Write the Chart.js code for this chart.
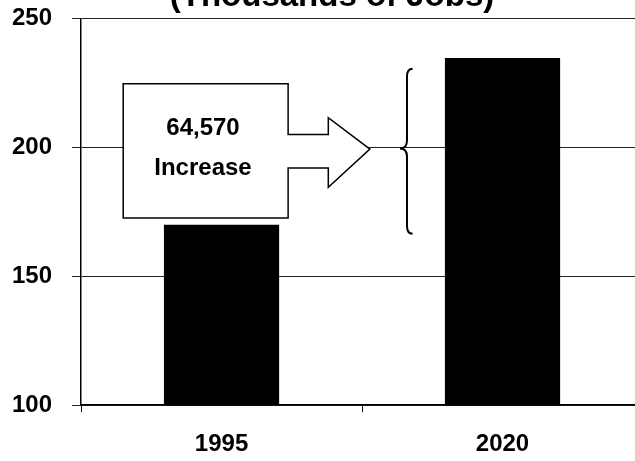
<!DOCTYPE html>
<html>
<head>
<meta charset="utf-8">
<script src="https://cdn.jsdelivr.net/npm/chart.js@4"></script>
<style>
  html, body { margin: 0; padding: 0; background: #fff; overflow: hidden; }
  #wrap { width: 645px; height: 477px; margin-top: -16px; }
</style>
</head>
<body>
<div id="wrap"><canvas id="myChart"></canvas></div>
<script>
const years = ["1995", "2020"];
const jobs = [170.0, 234.6];
const yTicks = [100, 150, 200, 250];
const increaseText = ["64,570", "Increase"];
const titleText = "(Thousands of Jobs)";

const FONT = "'Liberation Sans', Arial, sans-serif";

// cropped title + the "increase" callout drawn on top of the bars
const callout = {
  id: "callout",
  afterDatasetsDraw(chart) {
    const ctx = chart.ctx;
    const x = chart.scales.x;
    const y = chart.scales.y;
    const x0 = x.getPixelForValue(0);
    const cw = x.getPixelForValue(1) - x0;
    const px = (f) => x0 + f * cw;
    const py = (v) => y.getPixelForValue(v);

    ctx.save();
    // title, only its bottom shows at the top edge
    ctx.fillStyle = "#000";
    ctx.font = "bold 33px " + FONT;
    ctx.textAlign = "center";
    ctx.textBaseline = "alphabetic";
    ctx.fillText(titleText, 332, y.top - 12);

    // block arrow
    ctx.beginPath();
    ctx.moveTo(px(-0.35), py(224.7));
    ctx.lineTo(px(0.237), py(224.7));
    ctx.lineTo(px(0.237), py(205));
    ctx.lineTo(px(0.38), py(205));
    ctx.lineTo(px(0.38), py(211.5));
    ctx.lineTo(px(0.528), py(199.3));
    ctx.lineTo(px(0.38), py(184.5));
    ctx.lineTo(px(0.38), py(192));
    ctx.lineTo(px(0.237), py(192));
    ctx.lineTo(px(0.237), py(172.6));
    ctx.lineTo(px(-0.35), py(172.6));
    ctx.closePath();
    ctx.fillStyle = "#fff";
    ctx.fill();
    ctx.lineWidth = 1.5;
    ctx.strokeStyle = "#000";
    ctx.stroke();

    ctx.fillStyle = "#000";
    ctx.font = "bold 24px " + FONT;
    ctx.textBaseline = "middle";
    ctx.fillText(increaseText[0], px(-0.066), py(207.3));
    ctx.fillText(increaseText[1], px(-0.066), py(191.9));

    // brace between the two bar heights
    const bx = px(0.66), tip = px(0.635), cx = px(0.68);
    const top = py(230.5), mid = py(199.5), bot = py(166.5);
    ctx.beginPath();
    ctx.moveTo(cx, top);
    ctx.quadraticCurveTo(bx, top, bx, top + 8);
    ctx.lineTo(bx, mid - 8);
    ctx.quadraticCurveTo(bx, mid, tip, mid);
    ctx.quadraticCurveTo(bx, mid, bx, mid + 8);
    ctx.lineTo(bx, bot - 8);
    ctx.quadraticCurveTo(bx, bot, cx, bot);
    ctx.lineWidth = 2;
    ctx.stroke();
    ctx.restore();
  },
};

new Chart(document.getElementById("myChart"), {
  type: "bar",
  data: {
    labels: years,
    datasets: [
      {
        data: jobs,
        backgroundColor: "#000",
        borderWidth: 0,
        categoryPercentage: 1,
        barPercentage: 0.41,
      },
    ],
  },
  options: {
    responsive: true,
    maintainAspectRatio: false,
    animation: false,
    events: [],
    layout: { padding: { top: -9, left: -8, right: 2, bottom: -16 } },
    plugins: {
      legend: { display: false },
      tooltip: { enabled: false },
    },
    scales: {
      x: {
        offset: true,
        border: { display: true, color: "#000", width: 1.5 },
        grid: {
          offset: true,
          drawOnChartArea: false,
          drawTicks: true,
          tickLength: 7,
          color: "#000",
        },
        ticks: {
          color: "#000",
          padding: 18,
          font: { family: FONT, size: 24, weight: "bold" },
        },
      },
      y: {
        min: 100,
        max: 250,
        afterBuildTicks: (s) => {
          s.ticks = yTicks.map((v) => ({ value: v }));
        },
        border: { display: true, color: "#000", width: 1.5 },
        grid: { color: "#222", lineWidth: 1, tickLength: 9 },
        ticks: {
          color: "#000",
          padding: 20,
          font: { family: FONT, size: 24, weight: "bold" },
        },
      },
    },
  },
  plugins: [callout],
});
</script>
</body>
</html>
